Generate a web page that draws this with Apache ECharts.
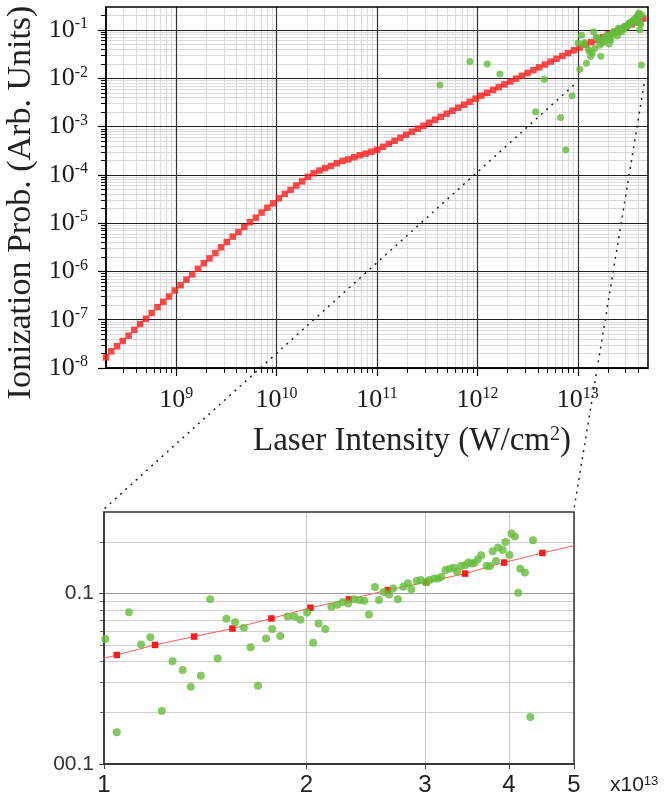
<!DOCTYPE html>
<html>
<head>
<meta charset="utf-8">
<title>Ionization probability vs laser intensity</title>
<script src="https://cdn.jsdelivr.net/npm/echarts@6/dist/echarts.min.js"></script>
<style>
  html, body { margin: 0; padding: 0; background: #fff; }
  #chart { width: 669px; height: 799px; }
</style>
</head>
<body>
<div id="chart"></div>
<script>
// everything is kept as log10 values: intensity in W/cm^2, probability in arb. units
// theory (red squares)
const theoryLogI = [8.301, 8.353, 8.411, 8.468, 8.526, 8.583, 8.641, 8.699, 8.756, 8.814, 8.871, 8.929, 8.987,
  9.044, 9.102, 9.159, 9.217, 9.275, 9.332, 9.390, 9.447, 9.505, 9.563, 9.620, 9.678, 9.735, 9.793, 9.851, 9.908, 9.966,
  10.023, 10.081, 10.139, 10.196, 10.254, 10.311, 10.369, 10.427, 10.484, 10.542, 10.599, 10.657, 10.715, 10.772, 10.830, 10.887, 10.945,
  11.003, 11.060, 11.118, 11.175, 11.233, 11.291, 11.348, 11.406, 11.463, 11.521, 11.579, 11.636, 11.694, 11.751, 11.809, 11.867, 11.924, 11.982,
  12.039, 12.097, 12.155, 12.212, 12.270, 12.327, 12.385, 12.443, 12.500, 12.558, 12.615, 12.673, 12.731, 12.788, 12.846, 12.903, 12.961,
  13.019, 13.076, 13.134, 13.191, 13.249, 13.307, 13.364, 13.422, 13.479, 13.537, 13.595, 13.652, 13.710];
const theoryLogP = [-7.78, -7.655, -7.55, -7.44, -7.33, -7.21, -7.09, -6.98, -6.86, -6.74, -6.63, -6.52, -6.395,
  -6.285, -6.17, -6.06, -5.945, -5.83, -5.73, -5.62, -5.50, -5.39, -5.28, -5.185, -5.08, -4.98, -4.887, -4.78, -4.68, -4.59,
  -4.486, -4.395, -4.31, -4.22, -4.135, -4.04, -3.967, -3.91, -3.86, -3.815, -3.76, -3.71, -3.68, -3.635, -3.594, -3.56, -3.52,
  -3.48, -3.418, -3.356, -3.295, -3.232, -3.169, -3.107, -3.045, -2.983, -2.920, -2.858, -2.796, -2.733, -2.672, -2.609, -2.547, -2.485, -2.423,
  -2.360, -2.301, -2.242, -2.184, -2.125, -2.066, -2.007, -1.948, -1.890, -1.831, -1.773, -1.714, -1.654, -1.596, -1.537, -1.479, -1.420,
  -1.361, -1.302, -1.253, -1.206, -1.147, -1.084, -1.035, -0.981, -0.934, -0.884, -0.819, -0.763, -0.71];

// measured (green dots)
const exptLogI = [11.627, 11.925, 12.098, 12.224, 12.579, 12.665, 12.828, 12.881, 12.943,
  13.002, 13.019, 13.037, 13.055, 13.069, 13.086, 13.102, 13.117, 13.129, 13.144, 13.158, 13.169, 13.182, 13.195,
  13.208, 13.218, 13.229, 13.241, 13.250, 13.262, 13.273, 13.283, 13.292, 13.302, 13.311, 13.319, 13.329,
  13.338, 13.347, 13.355, 13.363, 13.372, 13.380, 13.387, 13.394, 13.403, 13.409, 13.416, 13.424, 13.430, 13.437,
  13.445, 13.452, 13.457, 13.465, 13.471, 13.479, 13.484, 13.491, 13.497, 13.502, 13.508, 13.514, 13.520, 13.525,
  13.531, 13.537, 13.542, 13.547, 13.551, 13.556, 13.561, 13.569, 13.574, 13.578, 13.583, 13.586, 13.593, 13.597,
  13.603, 13.606, 13.611, 13.616, 13.619, 13.626, 13.634, 13.638];
const exptLogP = [-2.141, -1.650, -1.706, -1.913, -2.695, -2.017, -2.812, -3.484, -2.363,
  -1.267, -1.814, -1.110, -1.300, -1.257, -1.690, -1.398, -1.449, -1.547, -1.482, -1.035, -1.381, -1.149, -1.169,
  -1.202, -1.316, -1.541, -1.265, -1.208, -1.249, -1.135, -1.135, -1.155, -1.112, -1.290, -1.176, -1.208,
  -1.078, -1.066, -1.051, -1.059, -1.035, -1.039, -1.043, -1.124, -0.963, -1.039, -0.992, -1.006, -0.971, -1.035,
  -0.961, -0.941, -0.976, -0.928, -0.922, -0.934, -0.922, -0.912, -0.913, -0.902, -0.863, -0.855, -0.849, -0.872,
  -0.839, -0.835, -0.819, -0.825, -0.822, -0.800, -0.776, -0.839, -0.839, -0.753, -0.810, -0.731, -0.745, -0.698,
  -0.775, -0.649, -0.666, -0.996, -0.855, -0.878, -1.725, -0.688];

// axes
const mainXRange = [Math.log10(2e8), Math.log10(5e13)];
const mainYRange = [-8, Math.log10(0.3)];
const mainXTicks = [9, 10, 11, 12, 13];
const mainYTicks = [-8, -7, -6, -5, -4, -3, -2, -1];
const insetXRange = [13, 13 + Math.log10(5)];
const insetYRange = [-2, Math.log10(0.3)];
const insetXTicks = [1, 2, 3, 4, 5];          // in units of 10^13
const insetYTicks = [0.01, 0.1];
const insetYLabels = ['00.1', '0.1'];
const insetYMinor = [0.02, 0.03, 0.04, 0.05, 0.06, 0.07, 0.08, 0.09, 0.2];
// where the dotted zoom lines leave the main plot
const zoomFrom = [[12.96, -2.14], [13.66, -2.12]];

const SERIF = 'Liberation Serif';
const SANS = 'Liberation Sans';
const RED = '#ff1a1a';
const GREEN = '#66bb3c';

// 2..9 of every decade inside a log10 range
function minorLogs(lo, hi) {
  const out = [];
  for (let d = Math.floor(lo); d < hi; d++) {
    for (let m = 2; m <= 9; m++) {
      const v = d + Math.log10(m);
      if (v > lo + 1e-6 && v < hi - 1e-6) out.push(v);
    }
  }
  return out;
}

const powRich = {
  b: { fontFamily: SERIF, fontSize: 26, color: '#1a1a1a', lineHeight: 28 },
  s: { fontFamily: SERIF, fontSize: 16, color: '#1a1a1a', verticalAlign: 'top', lineHeight: 16 }
};
const pow10 = v => '{b|10}{s|' + v + '}';

const theory = theoryLogI.map((x, i) => [x, theoryLogP[i]]);
const expt = exptLogI.map((x, i) => [x, exptLogP[i]]);

const insetXVals = insetXTicks.map(v => 13 + Math.log10(v));
const insetYVals = insetYTicks.map(v => Math.log10(v));

const chart = echarts.init(document.getElementById('chart'));

chart.setOption({
  animation: false,
  backgroundColor: '#fff',
  grid: [
    { left: 106, top: 7, width: 542, height: 361, show: true, borderColor: '#000', borderWidth: 1.5, z: 3,
      outerBoundsMode: 'none', containLabel: false },
    { left: 104, top: 512, width: 470, height: 252, show: true, borderColor: '#333', borderWidth: 1.5, z: 3,
      outerBoundsMode: 'none', containLabel: false }
  ],
  xAxis: [
    { // main, minor grid
      type: 'value', gridIndex: 0, position: 'bottom', min: mainXRange[0], max: mainXRange[1], z: 0,
      axisLine: { show: false, onZero: false },
      axisTick: { customValues: minorLogs(mainXRange[0], mainXRange[1]), length: 5, lineStyle: { color: '#000' } },
      axisLabel: { show: false },
      splitLine: { show: true, lineStyle: { color: '#dcdcdc', width: 1 } }
    },
    { // main, decades
      type: 'value', gridIndex: 0, position: 'bottom', min: mainXRange[0], max: mainXRange[1], z: 1,
      axisLine: { onZero: false, lineStyle: { color: '#000', width: 1.5 } },
      axisTick: { customValues: mainXTicks, length: 8, lineStyle: { color: '#000', width: 1.2 } },
      axisLabel: { customValues: mainXTicks, margin: 18, formatter: pow10, rich: powRich },
      splitLine: { show: true, lineStyle: { color: '#333', width: 1.2 } },
      name: 'Laser Intensity (W/cm{s|2})',
      nameLocation: 'middle', nameGap: 57,
      nameTextStyle: {
        fontFamily: SERIF, fontSize: 33, color: '#222', padding: [0, 0, 0, 70],
        rich: { s: { fontFamily: SERIF, fontSize: 20, color: '#222', verticalAlign: 'top', lineHeight: 20 } }
      }
    },
    { // inset
      type: 'value', gridIndex: 1, position: 'bottom', min: insetXRange[0], max: insetXRange[1], z: 1,
      axisLine: { onZero: false, lineStyle: { color: '#222', width: 1.5 } },
      axisTick: { customValues: insetXVals, length: 5, lineStyle: { color: '#444' } },
      axisLabel: {
        customValues: insetXVals, margin: 9, fontFamily: SANS, fontSize: 24, color: '#222',
        formatter: v => String(Math.round(Math.pow(10, v - 13)))
      },
      splitLine: { show: true, lineStyle: { color: '#c8c8c8', width: 1 } },
      name: 'x10{s|13}',
      nameLocation: 'end', nameGap: 36,
      nameTextStyle: {
        fontFamily: SANS, fontSize: 21, color: '#222', verticalAlign: 'top', padding: [11, 0, 0, 0],
        rich: { s: { fontFamily: SANS, fontSize: 13, color: '#222', verticalAlign: 'top', lineHeight: 13 } }
      }
    }
  ],
  yAxis: [
    {
      type: 'value', gridIndex: 0, position: 'left', min: mainYRange[0], max: mainYRange[1], z: 0,
      axisLine: { show: false, onZero: false },
      axisTick: { customValues: minorLogs(mainYRange[0], mainYRange[1]), length: 5, lineStyle: { color: '#000' } },
      axisLabel: { show: false },
      splitLine: { show: true, lineStyle: { color: '#dcdcdc', width: 1 } }
    },
    {
      type: 'value', gridIndex: 0, position: 'left', min: mainYRange[0], max: mainYRange[1], z: 1,
      axisLine: { onZero: false, lineStyle: { color: '#000', width: 1.5 } },
      axisTick: { customValues: mainYTicks, length: 8, lineStyle: { color: '#000', width: 1.2 } },
      axisLabel: { customValues: mainYTicks, margin: 18, formatter: pow10, rich: powRich },
      splitLine: { show: true, lineStyle: { color: '#222', width: 1.2 } },
      name: 'Ionization Prob. (Arb. Units)',
      nameLocation: 'middle', nameGap: 64,
      nameTextStyle: { fontFamily: SERIF, fontSize: 34, color: '#222', padding: [0, 30, 0, 0] }
    },
    {
      type: 'value', gridIndex: 1, position: 'left', min: insetYRange[0], max: insetYRange[1], z: 0,
      axisLine: { show: false, onZero: false },
      axisTick: { customValues: insetYMinor.map(v => Math.log10(v)), length: 4, lineStyle: { color: '#666' } },
      axisLabel: { show: false },
      splitLine: { show: true, lineStyle: { color: '#d2d2d2', width: 1 } }
    },
    {
      type: 'value', gridIndex: 1, position: 'left', min: insetYRange[0], max: insetYRange[1], z: 1,
      axisLine: { onZero: false, lineStyle: { color: '#444', width: 1.5 } },
      axisTick: { customValues: insetYVals, length: 5, lineStyle: { color: '#444' } },
      axisLabel: {
        customValues: insetYVals, margin: 10, fontFamily: SANS, fontSize: 21, color: '#333',
        formatter: v => insetYLabels[insetYVals.findIndex(t => Math.abs(t - v) < 1e-6)] || ''
      },
      splitLine: { show: true, lineStyle: { color: '#9a9a9a', width: 1 } }
    }
  ],
  series: [
    {
      type: 'scatter', xAxisIndex: 1, yAxisIndex: 1, data: theory, z: 5,
      symbol: 'rect', symbolSize: 6.5, itemStyle: { color: RED }, silent: true
    },
    {
      type: 'scatter', xAxisIndex: 1, yAxisIndex: 1, data: expt, z: 6,
      symbol: 'circle', symbolSize: 7, itemStyle: { color: GREEN }, silent: true
    },
    {
      type: 'line', xAxisIndex: 2, yAxisIndex: 3, data: theory, z: 5,
      symbol: 'rect', symbolSize: 6.5, showAllSymbol: true,
      itemStyle: { color: RED }, lineStyle: { color: '#ff5a5a', width: 1 }, silent: true
    },
    {
      type: 'scatter', xAxisIndex: 2, yAxisIndex: 3, data: expt, z: 6,
      symbol: 'circle', symbolSize: 8, itemStyle: { color: GREEN }, silent: true
    }
  ]
});

// dotted lines from the zoomed range of the main plot down to the inset corners
const a0 = chart.convertToPixel({ seriesIndex: 0 }, zoomFrom[0]);
const a1 = chart.convertToPixel({ seriesIndex: 0 }, zoomFrom[1]);
const b0 = chart.convertToPixel({ seriesIndex: 2 }, [insetXRange[0], insetYRange[1]]);
const b1 = chart.convertToPixel({ seriesIndex: 2 }, [insetXRange[1], insetYRange[1]]);
const dotted = { stroke: '#222', lineWidth: 1.5, lineDash: [2, 5], fill: null };
chart.setOption({
  graphic: [
    { type: 'polyline', silent: true, z: 20, shape: { points: [a0, [b0[0], b0[1] - 3]] }, style: dotted },
    { type: 'polyline', silent: true, z: 20, shape: { points: [a1, [b1[0], b1[1] - 3]] }, style: dotted }
  ]
});
</script>
</body>
</html>
